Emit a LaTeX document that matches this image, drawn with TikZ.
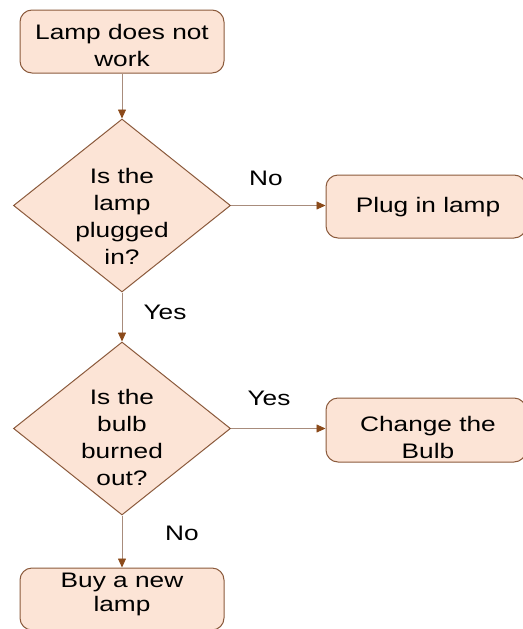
\documentclass[tikz,border=0pt]{standalone}
\usepackage{fontspec}
\setmainfont{Liberation Sans}
\usetikzlibrary{shapes.geometric,arrows.meta}
\definecolor{boxfill}{HTML}{FCE4D6}
\definecolor{boxline}{HTML}{8B5A3C}
\definecolor{arrline}{HTML}{A88C7C}
\definecolor{arrhead}{HTML}{8B4A1A}
\newcommand{\wide}[1]{\scalebox{1.25}[1]{#1}}
\tikzset{
  procbox/.style={draw=boxline, fill=boxfill, line width=1pt, rounded corners=12pt, inner sep=0pt},
  decbox/.style={draw=boxline, fill=boxfill, line width=1pt, diamond, inner sep=0pt},
  txt/.style={inner sep=0pt, align=center, font=\fontsize{21}{27}\selectfont},
  lbl/.style={inner sep=0pt, font=\fontsize{21}{24}\selectfont},
  conn/.style={draw=arrline, line width=0.8pt, -{Triangle[length=9pt,width=8pt,color=arrhead]}},
}
\begin{document}
\begin{tikzpicture}[x=1pt,y=1pt]
\useasboundingbox (0,0) rectangle (522,-629);
% boxes
\node[procbox, minimum width=204pt, minimum height=63pt] (start) at (122,-41.5) {};
\node[txt] (startt) at (122,-45) {\wide{Lamp does not}\\\wide{work}};
\node[decbox, minimum width=217pt, minimum height=173pt] (d1) at (122,-205.5) {};
\node[txt] (d1t) at (122,-216) {\wide{Is the}\\\wide{lamp}\\\wide{plugged}\\\wide{in?}};
\node[procbox, minimum width=200pt, minimum height=63pt] (plug) at (426,-206.5) {};
\node[txt] (plugt) at (428,-207) {\wide{Plug in lamp}};
\node[decbox, minimum width=217pt, minimum height=173pt] (d2) at (122,-428.5) {};
\node[txt] (d2t) at (122,-437) {\wide{Is the}\\\wide{bulb}\\\wide{burned}\\\wide{out?}};
\node[procbox, minimum width=200pt, minimum height=64pt] (bulb) at (426,-430) {};
\node[txt] (bulbt) at (428,-437) {\wide{Change the}\\\wide{Bulb}};
\node[procbox, minimum width=204pt, minimum height=62pt] (buy) at (122,-599) {};
\node[txt, font=\fontsize{21}{24}\selectfont] (buyt) at (122,-594) {\wide{Buy a new}\\\wide{lamp}};
% connectors
\draw[conn] (start.south) -- (d1.north);
\draw[conn] (d1.east) -- (plug.west |- d1.east);
\draw[conn] (d1.south) -- (d2.north);
\draw[conn] (d2.east) -- (bulb.west |- d2.east);
\draw[conn] (d2.south) -- (buy.north);
% labels
\node[lbl] (l1) at (266,-178) {\wide{No}};
\node[lbl] (l2) at (165,-312) {\wide{Yes}};
\node[lbl] (l3) at (269,-398) {\wide{Yes}};
\node[lbl] (l4) at (182,-533) {\wide{No}};
\end{tikzpicture}
\end{document}
